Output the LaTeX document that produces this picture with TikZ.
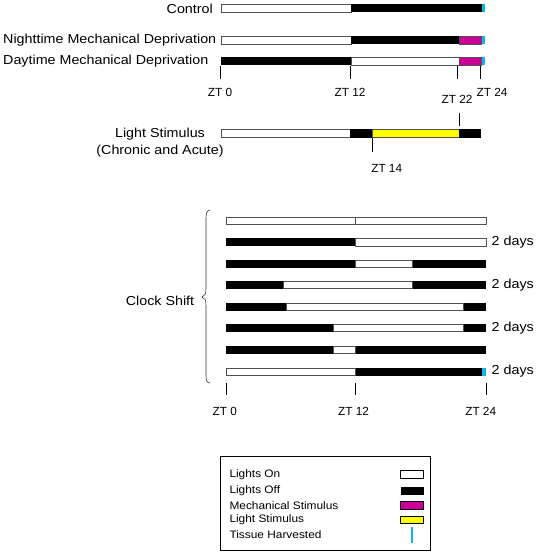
\documentclass[tikz,border=0pt]{standalone}
\usepackage{fontspec}
\newfontfamily\lblfont[FakeStretch=1.1]{Liberation Sans}
\newfontfamily\ztfont{Liberation Sans}
\definecolor{mag}{RGB}{204,0,153}
\definecolor{yel}{RGB}{255,255,0}
\definecolor{tiss}{RGB}{20,180,235}
\definecolor{edge}{RGB}{80,80,80}
\tikzset{
  lbl/.style={inner sep=0pt, font=\lblfont\fontsize{13}{16.5}\selectfont},
  leg/.style={inner sep=0pt, anchor=west, font=\lblfont\fontsize{10.8}{12}\selectfont},
  zt/.style={inner sep=0pt, font=\ztfont\fontsize{11.8}{13}\selectfont},
  onseg/.style={draw=edge, line width=0.7pt, fill=white},
  offseg/.style={fill=black},
  magseg/.style={draw=edge, line width=0.5pt, fill=mag},
  yelseg/.style={draw=edge, line width=0.5pt, fill=yel},
  tissue/.style={fill=tiss},
  tick/.style={line width=1pt, black},
}
\begin{document}
\begin{tikzpicture}[x=1pt,y=-1pt]
\useasboundingbox (0,0) rectangle (537,555);
% ---- Control
\node[lbl, anchor=east] (ctl) at (213,8.5) {Control};
\draw[onseg] (221,4) rectangle (351,12);
\fill[offseg] (351,3.6) rectangle (482,12.4);
\fill[tissue] (482,3.6) rectangle (485,12.4);
% ---- Nighttime
\node[lbl, anchor=west] (night) at (3,40.5) {Nighttime Mechanical Deprivation};
\draw[onseg] (221,36) rectangle (351,44);
\fill[offseg] (351,35.6) rectangle (459,44.4);
\draw[magseg] (459,36) rectangle (481,44);
\fill[tissue] (482,35.6) rectangle (485,44.4);
% ---- Daytime
\node[lbl, anchor=west] (day) at (3,61.5) {Daytime Mechanical Deprivation};
\fill[offseg] (220.6,56.6) rectangle (351,65.4);
\draw[onseg] (351,57) rectangle (459,65);
\draw[magseg] (459,57) rectangle (481,65);
\fill[tissue] (482,56.6) rectangle (485,65.4);
% ticks top
\draw[tick] (220.6,65.5) -- (220.6,79);
\draw[tick] (350.3,65.5) -- (350.3,79);
\draw[tick] (457.5,65.5) -- (457.5,79);
\draw[tick] (480.5,65.5) -- (480.5,79);
\node[zt] (z0a) at (220,92) {ZT 0};
\node[zt] (z12a) at (350,92) {ZT 12};
\node[zt] (z22a) at (457,99.5) {ZT 22};
\node[zt] (z24a) at (492,92) {ZT 24};
% ---- Light stimulus
\node[lbl, align=center] (light) at (160,142.5) {Light Stimulus\\(Chronic and Acute)};
\draw[onseg] (221,129.5) rectangle (350,137.5);
\fill[offseg] (350,129.1) rectangle (372,137.9);
\draw[yelseg] (372,129.5) rectangle (459,137.5);
\fill[offseg] (459,129.1) rectangle (481,137.9);
\draw[tick] (459,113) -- (459,126);
\draw[tick] (372,138) -- (372,152);
\node[zt] (z14) at (386.7,168) {ZT 14};
% ---- Clock shift
\node[lbl] (clock) at (160,301) {Clock Shift};
\draw[line width=0.6pt, black!80] (210,210) .. controls (206,210.5) and (206,214) .. (206,222) -- (206,288)
  .. controls (206,294) and (205,296) .. (202,297)
  .. controls (205,298) and (206,300) .. (206,306) -- (206,372)
  .. controls (206,380) and (206,382.5) .. (210,383);
% row 1
\draw[onseg] (226,217.5) rectangle (355.7,224);
\draw[onseg] (355.7,217.5) rectangle (486,224);
% row 2
\fill[offseg] (225.6,238.3) rectangle (355.7,246.3);
\draw[onseg] (355.7,238.7) rectangle (486,245.9);
\node[lbl, anchor=west] (d1) at (491.5,242.3) {2 days};
% row 3
\fill[offseg] (225.6,259.7) rectangle (486.4,267.7);
\draw[onseg] (355.7,260.1) rectangle (412.3,267.3);
% row 4
\fill[offseg] (225.6,281) rectangle (486.4,289);
\draw[onseg] (283,281.4) rectangle (412.3,288.6);
\node[lbl, anchor=west] (d2) at (491.5,285) {2 days};
% row 5
\fill[offseg] (225.6,302.5) rectangle (486.4,310.5);
\draw[onseg] (286.7,302.9) rectangle (463,310.1);
% row 6
\fill[offseg] (225.6,324) rectangle (486.4,332);
\draw[onseg] (333.7,324.4) rectangle (463,331.6);
\node[lbl, anchor=west] (d3) at (491.5,328) {2 days};
% row 7
\fill[offseg] (225.6,345.7) rectangle (486.4,353.7);
\draw[onseg] (333.7,346.1) rectangle (355.7,353.3);
% row 8
\draw[onseg] (226,367.9) rectangle (355.7,375.1);
\fill[offseg] (355.7,367.5) rectangle (482,375.5);
\fill[tissue] (482,367.5) rectangle (486,375.5);
\node[lbl, anchor=west] (d4) at (491.5,371.5) {2 days};
% ticks bottom
\draw[tick] (226,382.5) -- (226,395);
\draw[tick] (355.7,382.5) -- (355.7,395);
\draw[tick] (486,382.5) -- (486,395);
\node[zt] (z0b) at (224.7,411.7) {ZT 0};
\node[zt] (z12b) at (353.5,411.7) {ZT 12};
\node[zt] (z24b) at (480.7,411.7) {ZT 24};
% ---- Legend
\draw[line width=0.7pt] (220.7,456.7) rectangle (430.7,550.7);
\node[leg] (l1) at (229.3,475) {Lights On};
\node[leg] (l2) at (229.3,491) {Lights Off};
\node[leg] (l3) at (229.3,505.3) {Mechanical Stimulus};
\node[leg] (l4) at (229.3,520) {Light Stimulus};
\node[leg] (l5) at (229.3,534.3) {Tissue Harvested};
\draw[onseg, draw=black] (400.7,470.7) rectangle (423.7,478);
\fill[black] (400.7,487) rectangle (423.7,495);
\draw[magseg, draw=black] (400.7,501.5) rectangle (423.7,508.8);
\draw[yelseg, draw=black] (400.7,516) rectangle (423.7,523.3);
\fill[tiss] (410.7,527) rectangle (413.3,543.3);
\end{tikzpicture}
\end{document}
